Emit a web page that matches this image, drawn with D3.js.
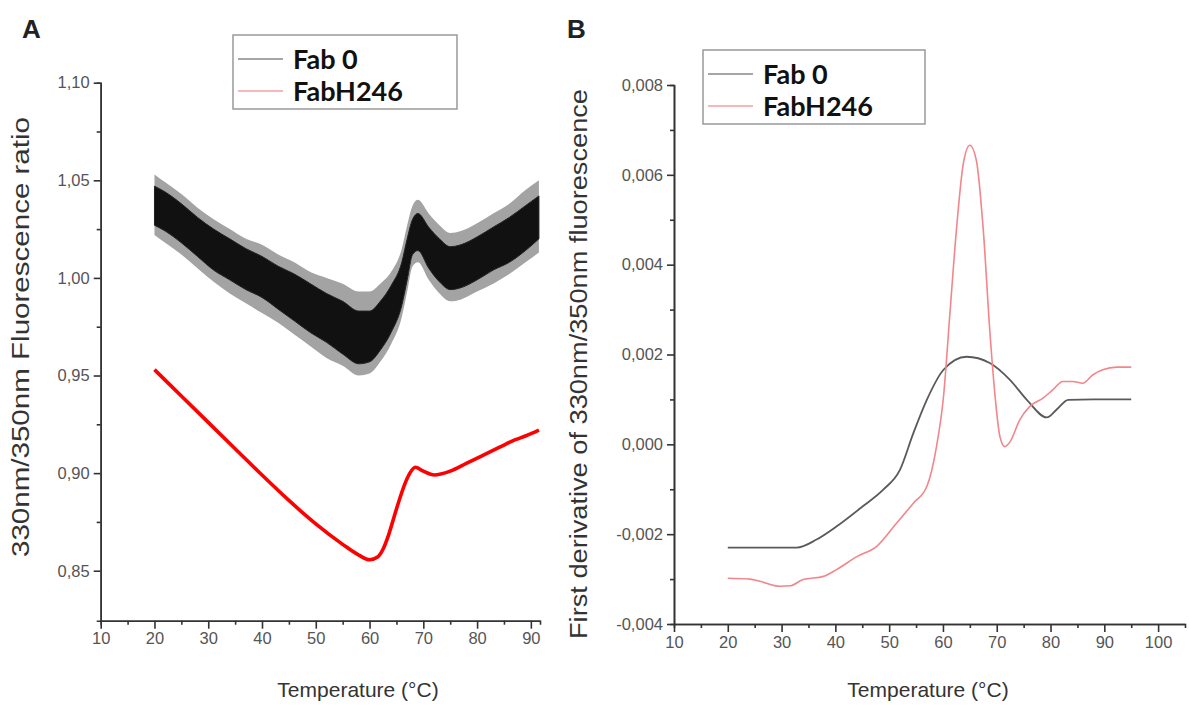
<!DOCTYPE html>
<html>
<head>
<meta charset="utf-8">
<script src="https://cdn.jsdelivr.net/npm/d3@7"></script>
<style>
body { margin: 0; background: #fff; }
</style>
</head>
<body>
<div class="d3-container"></div>
<script>
const seriesNames = ["Fab 0", "FabH246"];

// panel A : 330/350 ratio (Fab 0 is noisy, drawn as dense core + spike envelope)
const tempA0 = [20, 22, 25, 28, 31, 34, 37, 40, 43, 46, 49, 52, 55, 58, 60, 62, 64, 66, 67, 68, 69, 71, 73, 75, 77, 80, 83, 86, 89, 91.5];
const fab0Low = [1.027, 1.024, 1.018, 1.011, 1.004, 0.999, 0.994, 0.990, 0.984, 0.978, 0.972, 0.967, 0.961, 0.956, 0.957, 0.963, 0.972, 0.986, 0.999, 1.012, 1.014, 1.005, 0.998, 0.994, 0.995, 0.999, 1.004, 1.008, 1.014, 1.020];
const fab0High = [1.047, 1.044, 1.038, 1.031, 1.025, 1.020, 1.015, 1.011, 1.006, 1.002, 0.997, 0.992, 0.988, 0.983, 0.983, 0.988, 0.996, 1.008, 1.020, 1.030, 1.033, 1.026, 1.020, 1.016, 1.017, 1.021, 1.026, 1.031, 1.037, 1.042];
const fab0SpikeLow = [1.022, 1.018, 1.012, 1.005, 0.998, 0.992, 0.987, 0.982, 0.977, 0.971, 0.965, 0.959, 0.955, 0.950, 0.951, 0.957, 0.966, 0.980, 0.993, 1.006, 1.008, 0.999, 0.992, 0.988, 0.989, 0.993, 0.997, 1.002, 1.008, 1.013];
const fab0SpikeHigh = [1.053, 1.049, 1.043, 1.036, 1.030, 1.025, 1.020, 1.017, 1.012, 1.008, 1.003, 1.000, 0.997, 0.993, 0.993, 0.997, 1.003, 1.015, 1.027, 1.037, 1.040, 1.033, 1.027, 1.023, 1.024, 1.028, 1.033, 1.038, 1.045, 1.050];

const tempAH = [20, 25, 30, 35, 40, 45, 50, 55, 58, 60, 61.5, 62.5, 63.5, 64.5, 65.5, 66.5, 67.5, 68.5, 70, 72, 75, 78, 81, 84, 87, 89, 91.5];
const fabH246A = [0.953, 0.9395, 0.926, 0.9125, 0.899, 0.886, 0.874, 0.8635, 0.858, 0.8556, 0.857, 0.861, 0.868, 0.877, 0.886, 0.894, 0.900, 0.903, 0.901, 0.899, 0.901, 0.905, 0.909, 0.913, 0.917, 0.919, 0.922];

// panel B : first derivative
const tempB0 = [20, 24, 28, 32.8, 36.5, 40.2, 45.1, 48.9, 52, 54.5, 57, 60.1, 64.4, 68.7, 72.5, 75.6, 79.3, 81.1, 83.3, 88, 95];
const fab0Deriv = [-0.0023, -0.0023, -0.0023, -0.0023, -0.00212, -0.00183, -0.00138, -0.00101, -0.00057, 0.00025, 0.00099, 0.00166, 0.00195, 0.00181, 0.00143, 0.00099, 0.0006, 0.00077, 0.00099, 0.001, 0.001];

const tempBH = [20, 24.1, 26, 29.7, 31.6, 34, 37.8, 40.2, 44, 47.7, 51.4, 54.5, 57, 58.8, 60.1, 61.3, 62.5, 63.8, 65, 66.2, 67.5, 68.7, 69.7, 70.6, 71.5, 72.5, 74.3, 76.1, 78.6, 80.4, 82.3, 84.1, 86, 87.9, 89.7, 92.3, 95];
const fabH246Deriv = [-0.00298, -0.003, -0.00305, -0.00316, -0.00315, -0.00301, -0.00294, -0.00279, -0.0025, -0.00227, -0.00175, -0.00131, -0.00094, -0.00005, 0.00106, 0.00292, 0.00477, 0.00626, 0.00666, 0.00633, 0.00477, 0.00255, 0.00106, 0.00017, -0.00005, 0.00006, 0.00055, 0.00084, 0.00103, 0.00121, 0.0014, 0.0014, 0.00136, 0.00155, 0.00166, 0.00172, 0.00172];

const xTicksA = [10, 20, 30, 40, 50, 60, 70, 80, 90];
const xMinorA = [15, 25, 35, 45, 55, 65, 75, 85];
const yTicksA = [0.85, 0.90, 0.95, 1.00, 1.05, 1.10];
const yMinorA = [0.875, 0.925, 0.975, 1.025, 1.075];
const xTicksB = [10, 20, 30, 40, 50, 60, 70, 80, 90, 100];
const xMinorB = [15, 25, 35, 45, 55, 65, 75, 85, 95];
const yTicksB = [-0.004, -0.002, 0, 0.002, 0.004, 0.006, 0.008];
const yMinorB = [-0.003, -0.001, 0.001, 0.003, 0.005, 0.007];

const width = 1189;
const height = 709;

const locale = d3.formatLocale({decimal: ",", thousands: ".", grouping: [3], currency: ["", ""], minus: "-"});

const svg = d3.select(".d3-container")
  .append("svg")
  .attr("width", width)
  .attr("height", height)
  .attr("viewBox", [0, 0, width, height])
  .style("font-family", "'Liberation Sans', Arial, sans-serif");

// scales
const xA = d3.scaleLinear().domain([10, 91.7]).range([100.7, 540]);
const yA = d3.scaleLinear().domain([0.8244, 1.10]).range([620.7, 82.7]);
const xB = d3.scaleLinear().domain([10, 105]).range([674, 1185]);
const yB = d3.scaleLinear().domain([-0.004, 0.008]).range([624, 85]);

function styleAxis(g) {
  g.select(".domain").attr("stroke", "#333").attr("stroke-width", 1.6);
  g.selectAll(".tick line").attr("stroke", "#333").attr("stroke-width", 1.6);
  g.selectAll(".tick text").attr("fill", "#555").style("font-size", "16.5px");
}

function drawAxes(x, y, xT, xM, yT, yM, yFmt) {
  const y0 = y.range()[0];
  const x0 = x.range()[0];
  svg.append("g")
    .attr("transform", `translate(0,${y0})`)
    .call(d3.axisBottom(x).tickValues(xM).tickSize(4).tickFormat(""))
    .call(styleAxis);
  svg.append("g")
    .attr("transform", `translate(0,${y0})`)
    .call(d3.axisBottom(x).tickValues(xT).tickSize(8).tickSizeOuter(0).tickPadding(4))
    .call(styleAxis);
  svg.append("g")
    .attr("transform", `translate(${x0},0)`)
    .call(d3.axisLeft(y).tickValues(yM).tickSize(4).tickFormat(""))
    .call(styleAxis);
  svg.append("g")
    .attr("transform", `translate(${x0},0)`)
    .call(d3.axisLeft(y).tickValues(yT).tickSize(7).tickSizeOuter(0).tickPadding(4).tickFormat(locale.format(yFmt)))
    .call(styleAxis);
}

drawAxes(xA, yA, xTicksA, xMinorA, yTicksA, yMinorA, ".2f");
drawAxes(xB, yB, xTicksB, xMinorB, yTicksB, yMinorB, ".3f");

// panel A curves
const spikeA = tempA0.map((t, i) => ({t, lo: fab0SpikeLow[i], hi: fab0SpikeHigh[i]}));
const coreA = tempA0.map((t, i) => ({t, lo: fab0Low[i], hi: fab0High[i]}));
const bandArea = d3.area().x(d => xA(d.t)).y0(d => yA(d.lo)).y1(d => yA(d.hi)).curve(d3.curveMonotoneX);

svg.append("path")
  .datum(spikeA)
  .attr("fill", "#333")
  .attr("fill-opacity", 0.45)
  .attr("d", bandArea);

svg.append("path")
  .datum(coreA)
  .attr("fill", "#111")
  .attr("stroke", "#222")
  .attr("stroke-width", 1)
  .attr("d", bandArea);

svg.append("path")
  .datum(tempAH.map((t, i) => [t, fabH246A[i]]))
  .attr("fill", "none")
  .attr("stroke", "#ff0000")
  .attr("stroke-width", 3.6)
  .attr("d", d3.line().x(d => xA(d[0])).y(d => yA(d[1])).curve(d3.curveMonotoneX));

// panel B curves
svg.append("path")
  .datum(tempB0.map((t, i) => [t, fab0Deriv[i]]))
  .attr("fill", "none")
  .attr("stroke", "#5a5a5a")
  .attr("stroke-width", 1.8)
  .attr("d", d3.line().x(d => xB(d[0])).y(d => yB(d[1])).curve(d3.curveMonotoneX));

svg.append("path")
  .datum(tempBH.map((t, i) => [t, fabH246Deriv[i]]))
  .attr("fill", "none")
  .attr("stroke", "#f2868b")
  .attr("stroke-width", 1.6)
  .attr("d", d3.line().x(d => xB(d[0])).y(d => yB(d[1])).curve(d3.curveMonotoneX));

// axis titles
svg.append("text")
  .attr("transform", "translate(29,337) rotate(-90)")
  .attr("text-anchor", "middle")
  .attr("fill", "#333")
  .attr("textLength", 440)
  .attr("lengthAdjust", "spacingAndGlyphs")
  .style("font-size", "23px")
  .text("330nm/350nm Fluorescence ratio");

svg.append("text")
  .attr("transform", "translate(587,364) rotate(-90)")
  .attr("text-anchor", "middle")
  .attr("fill", "#333")
  .attr("textLength", 550)
  .attr("lengthAdjust", "spacingAndGlyphs")
  .style("font-size", "23px")
  .text("First derivative of 330nm/350nm fluorescence");

svg.append("text")
  .attr("x", 358).attr("y", 697)
  .attr("text-anchor", "middle")
  .attr("fill", "#333")
  .style("font-size", "21px")
  .text("Temperature (°C)");

svg.append("text")
  .attr("x", 928).attr("y", 697)
  .attr("text-anchor", "middle")
  .attr("fill", "#333")
  .style("font-size", "21px")
  .text("Temperature (°C)");

// panel letters
svg.append("text").attr("x", 22).attr("y", 38)
  .style("font-size", "26px").style("font-weight", "bold").attr("fill", "#222").text("A");
svg.append("text").attr("x", 567).attr("y", 38)
  .style("font-size", "26px").style("font-weight", "bold").attr("fill", "#222").text("B");

// legends
const legendColors = ["#888", "#f4a0a6"];
function legend(x, y, w, h) {
  const g = svg.append("g").attr("transform", `translate(${x},${y})`);
  g.append("rect").attr("width", w).attr("height", h)
    .attr("fill", "#fff").attr("stroke", "#999").attr("stroke-width", 1.5);
  seriesNames.forEach((name, i) => {
    const cy = 24 + i * 32;
    g.append("line").attr("x1", 5).attr("x2", 50).attr("y1", cy).attr("y2", cy)
      .attr("stroke", legendColors[i]).attr("stroke-width", 1.6);
    g.append("text").attr("x", 60).attr("y", cy + 10)
      .style("font-family", "Lato, 'Open Sans', sans-serif")
      .style("font-size", "27px").style("font-weight", "bold")
      .attr("fill", "#111").text(name);
  });
}
legend(233, 35, 224, 74);
legend(703, 50, 222, 74);
</script>
</body>
</html>
